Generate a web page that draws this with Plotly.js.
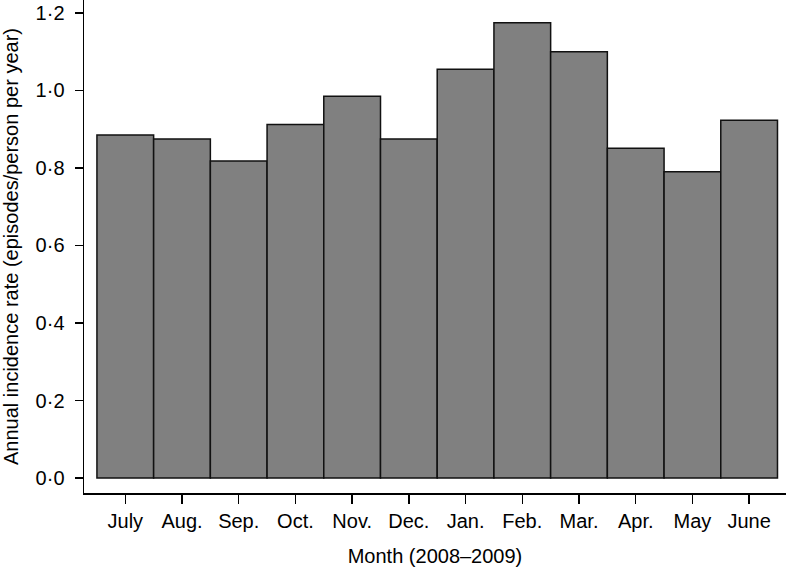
<!DOCTYPE html>
<html>
<head>
<meta charset="utf-8">
<script src="https://cdn.plot.ly/plotly-3.0.1.min.js"></script>
<style>html,body{margin:0;padding:0;background:#fff;}#chart{width:786px;height:567px;}</style>
</head>
<body>
<div id="chart"></div>
<script>
const months = ["July","Aug.","Sep.","Oct.","Nov.","Dec.","Jan.","Feb.","Mar.","Apr.","May","June"];
const rates = [0.885, 0.875, 0.818, 0.912, 0.985, 0.875, 1.055, 1.175, 1.100, 0.851, 0.790, 0.923];
const yTickVals = [0, 0.2, 0.4, 0.6, 0.8, 1.0, 1.2];
const yTickText = ["0·0","0·2","0·4","0·6","0·8","1·0","1·2"];

const fam = "Liberation Sans, Arial, sans-serif";
const font = {family: fam, size: 20, color: "#000"};

Plotly.newPlot("chart", [{
  type: "bar",
  x: months.map((m, i) => i),
  y: rates,
  width: 1,
  marker: {color: "#808080", line: {color: "#111", width: 1.5}},
  hoverinfo: "skip"
}], {
  width: 786, height: 567,
  margin: {l: 84, r: 0, t: 0, b: 74},
  paper_bgcolor: "#fff", plot_bgcolor: "#fff",
  font: font,
  showlegend: false,
  bargap: 0,
  xaxis: {
    range: [-0.728, 11.65],
    tickvals: months.map((m, i) => i),
    ticktext: months,
    showline: true, linecolor: "#000", linewidth: 1.5,
    ticks: "outside", ticklen: 9, tickwidth: 1.5, tickcolor: "#000",
    ticklabelstandoff: 0,
    showgrid: false, zeroline: false,
    tickfont: font,
    title: {text: "Month (2008–2009)", font: font, standoff: 18}
  },
  yaxis: {
    range: [-0.0387, 1.2335],
    tickvals: yTickVals,
    ticktext: yTickText,
    showline: true, linecolor: "#000", linewidth: 1.5,
    ticks: "outside", ticklen: 8, tickwidth: 1.5, tickcolor: "#000",
    ticklabelstandoff: 6,
    showgrid: false, zeroline: false,
    tickfont: font,
    title: {text: "Annual incidence rate (episodes/person per year)", font: font, standoff: 13}
  }
}, {displayModeBar: false, staticPlot: true});
</script>
</body>
</html>
